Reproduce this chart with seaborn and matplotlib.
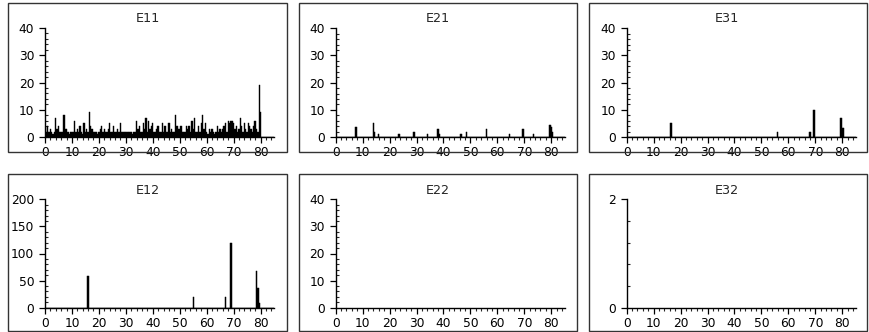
import numpy as np
import pandas as pd
import seaborn as sns
import matplotlib
matplotlib.use("Agg")
import matplotlib.pyplot as plt
from matplotlib.patches import Rectangle
from matplotlib.ticker import MultipleLocator

# ---------------- data ----------------
step = 0.5
e11_x = [i * step for i in range(161)]
e11_y = [
    4, 2, 4, 2, 3, 2, 1, 2, 7, 3, 4, 2, 2, 2, 8, 3, 3, 2, 1, 2,
    2, 2, 6, 2, 3, 2, 4, 2, 1, 5, 2, 3, 2, 9, 4, 3, 2, 2, 2, 1,
    2, 3, 4, 2, 3, 2, 2, 3, 5, 2, 2, 4, 2, 2, 3, 2, 5, 2, 2, 2,
    2, 2, 2, 2, 2, 1, 2, 2, 6, 3, 4, 2, 2, 5, 3, 7, 2, 6, 3, 4,
    5, 2, 2, 3, 4, 2, 2, 5, 2, 4, 2, 2, 5, 2, 3, 2, 2, 8, 4, 3,
    3, 4, 2, 2, 2, 4, 3, 4, 2, 6, 3, 7, 2, 2, 4, 2, 5, 8, 3, 5,
    2, 1, 3, 2, 3, 2, 1, 2, 4, 2, 3, 2, 3, 4, 5, 2, 6, 5, 6, 6,
    5, 3, 4, 2, 3, 7, 4, 2, 5, 3, 2, 5, 4, 3, 2, 4, 6, 3, 2, 19,
    9,
]
e21_x = [7.5, 14, 14.5, 16, 23.5, 29, 34, 38, 38.5, 46.5, 48.5, 56, 64.5, 69.5, 73.5, 79.5, 80, 80.5]
e21_y = [3.5, 5, 2, 1, 1, 2, 1, 3, 1, 1, 2, 3, 1, 3, 1, 4.5, 3.5, 2]
e31_x = [16.5, 56, 68, 69.5, 79.5, 80, 80.5]
e31_y = [5, 2, 2, 10, 7, 3.3, 3.3]
e12_x = [16, 55, 67, 69, 78.5, 79, 79.5]
e12_y = [58, 20, 20, 120, 67, 36, 9]
e22_x, e22_y = [], []
e32_x, e32_y = [], []

titles = ["E11", "E21", "E31", "E12", "E22", "E32"]
ymaxes = [40, 40, 40, 200, 40, 2]
ymajor = [10, 10, 10, 50, 10, 2]
yminor = [2, 2, 2, 10, 2, 0.4]
xs_all = [e11_x, e21_x, e31_x, e12_x, e22_x, e32_x]
ys_all = [e11_y, e21_y, e31_y, e12_y, e22_y, e32_y]

# ---------------- style ----------------
sns.set_style("ticks")
plt.rcParams["font.family"] = ["DejaVu Sans"]

W, H = 869, 332
fig = plt.figure(figsize=(W / 100, H / 100), dpi=100)

ax_px = [
    (45, 137, 28),
    (335.7, 137, 28.3),
    (626.7, 137, 28.3),
    (45, 307.7, 199.3),
    (335.7, 307.7, 199.3),
    (626.7, 307.7, 199.3),
]
box_px = [
    (8, 3, 287, 152), (299, 3, 577, 152), (589, 3, 867, 152),
    (8, 174, 287, 331), (299, 174, 577, 331), (589, 174, 867, 331),
]
title_px = [(148, 19), (438, 19), (727, 19), (148, 191), (438, 191), (727, 191)]

for i in range(6):
    l, yb, yt = ax_px[i]
    ax = fig.add_axes([l / W, (H - yb) / H, 229 / W, (yb - yt) / H])
    if len(xs_all[i]) > 0:
        df = pd.DataFrame({"x": xs_all[i], "v": ys_all[i]})
        dense = len(xs_all[i]) > 50
        sns.histplot(data=df, x="x", weights="v", binwidth=step,
                     binrange=(-0.25, 85.75), ax=ax,
                     color="black", alpha=1, edgecolor="black",
                     linewidth=0.3 if dense else 0.35)
    ax.set_xlim(0, 85)
    ax.set_ylim(0, ymaxes[i])
    ax.set_xlabel("")
    ax.set_ylabel("")
    ax.set_facecolor("none")
    for s in ["top", "right"]:
        ax.spines[s].set_visible(False)
    for s in ["left", "bottom"]:
        ax.spines[s].set_linewidth(1.0)
        ax.spines[s].set_color("black")
    ax.set_xticks(np.arange(0, 81, 10))
    ax.xaxis.set_minor_locator(MultipleLocator(2))
    ax.set_yticks(np.arange(0, ymaxes[i] + 0.001, ymajor[i]))
    ax.yaxis.set_minor_locator(MultipleLocator(yminor[i]))
    if ymaxes[i] == 2:
        ax.set_yticklabels(["0", "2"])
    ax.tick_params(axis="both", which="major", length=4.3, width=0.9,
                   direction="out", labelsize=8.8, colors="black")
    ax.tick_params(axis="x", which="major", pad=2.5)
    ax.tick_params(axis="y", which="major", pad=3.5)
    ax.tick_params(axis="x", which="minor", length=2.2, width=0.8, direction="out")
    ax.tick_params(axis="y", which="minor", length=2.2, width=0.8, direction="in")

    x0, y0, x1, y1 = box_px[i]
    fig.patches.append(Rectangle((x0 / W, (H - y1) / H), (x1 - x0) / W, (y1 - y0) / H,
                                 transform=fig.transFigure, fill=False,
                                 edgecolor="#333333", linewidth=1.0))
    tx, ty = title_px[i]
    fig.text(tx / W, (H - ty) / H, titles[i], ha="center", va="center", fontsize=9.2)

fig.savefig("out.png", dpi=100)
